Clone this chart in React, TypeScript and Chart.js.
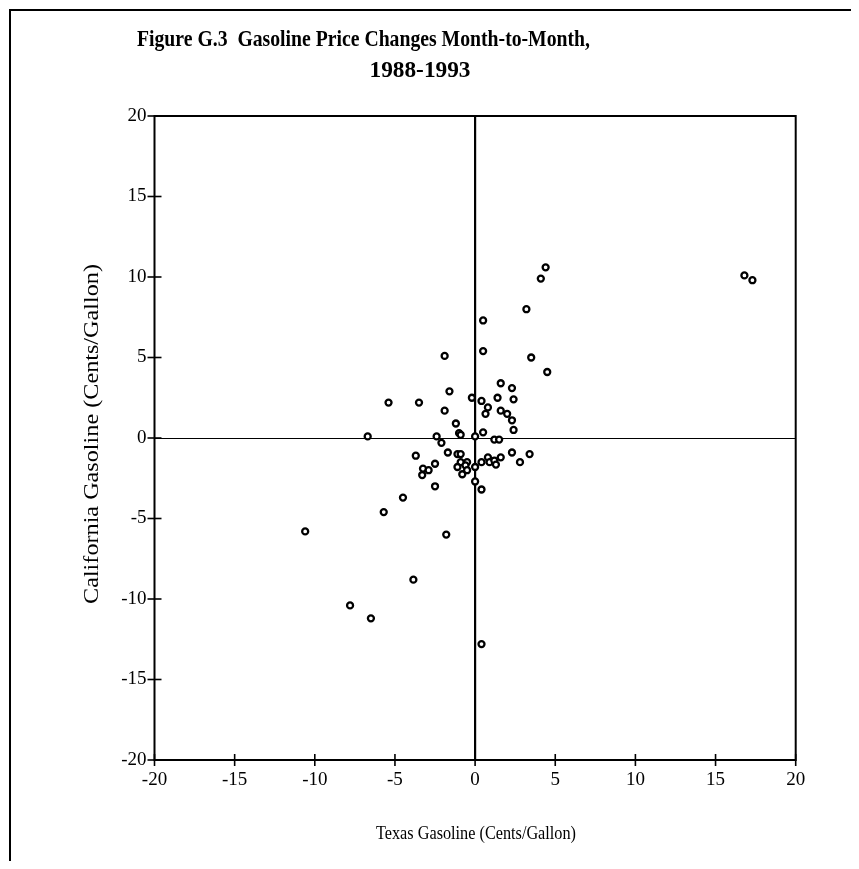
import React, { useEffect, useRef } from "react";
import { Chart, registerables } from "chart.js";

Chart.register(...registerables);

const texasChange = [
  -1.9, -1.6, -5.4, -3.5, -0.2, -1.9, -1.2, -1.0, -0.9, -6.7, -2.4, -2.1, 0.0,
  4.4, 4.1, 3.2, 0.5, 0.5, 3.5, 4.5, 2.3, 1.4, 2.4, 0.4, 0.8, 0.65, 1.6, 2.0,
  2.3, 2.4, 0.5, 1.2, 1.5, -1.7, -1.1, -0.9, -3.7, 2.3, 3.4, 1.6, 0.8, 0.9, 1.2,
  1.3, 0.4, 2.8, -2.5, -0.9, -0.5, -0.6, -1.1, -0.5, -0.8, 0.0, -3.25, -2.9,
  -3.3, 0.0, -2.5, 0.4, -4.5, -5.7, -10.6, -1.8, -3.85, -7.8, -6.5, 0.4, 16.8,
  17.3, 1.6,
];
const californiaChange = [
  5.1, 2.9, 2.2, 2.2, 2.5, 1.7, 0.9, 0.3, 0.2, 0.1, 0.1, -0.3, 0.1, 10.6, 9.9,
  8.0, 7.3, 5.4, 5.0, 4.1, 3.1, 2.5, 2.4, 2.3, 1.9, 1.5, 1.7, 1.5, 1.1, 0.5,
  0.35, -0.1, -0.1, -0.9, -1.0, -1.0, -1.1, -0.9, -1.0, -1.2, -1.2, -1.5, -1.4,
  -1.65, -1.5, -1.5, -1.6, -1.5, -1.5, -1.7, -1.8, -2.0, -2.25, -1.8, -1.9,
  -2.0, -2.3, -2.7, -3.0, -3.2, -3.7, -4.6, -5.8, -6.0, -8.8, -10.4, -11.2,
  -12.8, 10.1, 9.8, 3.4,
];
const axisTicks = [-20, -15, -10, -5, 0, 5, 10, 15, 20];

const titleLine1 = "Figure G.3  Gasoline Price Changes Month-to-Month,";
const titleLine2 = "1988-1993";
const xTitle = "Texas Gasoline (Cents/Gallon)";
const yTitle = "California Gasoline (Cents/Gallon)";

const SERIF = "'Liberation Serif', 'Times New Roman', serif";

function fitText(
  ctx: CanvasRenderingContext2D,
  text: string,
  cx: number,
  cy: number,
  w: number,
  font: string,
  rot = 0
) {
  ctx.save();
  ctx.translate(cx, cy);
  ctx.rotate(rot);
  ctx.font = font;
  const m = ctx.measureText(text).width;
  ctx.scale(w / m, 1);
  ctx.fillStyle = "#000";
  ctx.textAlign = "center";
  ctx.textBaseline = "middle";
  ctx.fillText(text, 0, 0);
  ctx.restore();
}

const decor = {
  id: "decor",
  beforeDatasetsDraw(chart: any) {
    const { ctx, chartArea, scales } = chart;
    const { left, right, top, bottom } = chartArea;
    const x = scales.x;
    const y = scales.y;
    const line = (a: number, b: number, c: number, d: number) => {
      ctx.beginPath();
      ctx.moveTo(a, b);
      ctx.lineTo(c, d);
      ctx.stroke();
    };
    ctx.save();
    ctx.strokeStyle = "#000";
    ctx.lineWidth = 2;
    ctx.strokeRect(left, top, right - left, bottom - top);
    const x0 = x.getPixelForValue(0);
    const y0 = Math.round(y.getPixelForValue(0)) + 0.5;
    ctx.lineWidth = 2.2;
    line(x0, top, x0, bottom);
    ctx.lineWidth = 1;
    line(left, y0, right, y0);
    ctx.lineWidth = 1.6;
    axisTicks.forEach((v) => {
      const px = x.getPixelForValue(v);
      line(px, bottom - 6, px, bottom + 6);
      const py = y.getPixelForValue(v);
      line(left - 7, py, left + 7, py);
    });
    ctx.restore();
  },
  afterDraw(chart: any) {
    const { ctx, width, height } = chart;
    ctx.save();
    ctx.strokeStyle = "#000";
    ctx.lineWidth = 2;
    ctx.beginPath();
    ctx.moveTo(2, height);
    ctx.lineTo(2, 2);
    ctx.lineTo(width, 2);
    ctx.stroke();
    ctx.restore();
    fitText(ctx, titleLine1, 355.5, 32, 453, `bold 24px ${SERIF}`);
    fitText(ctx, titleLine2, 412, 63, 101, `bold 24px ${SERIF}`);
    fitText(ctx, xTitle, 468, 826, 200, `19px ${SERIF}`);
    fitText(ctx, yTitle, 84, 426, 340, `22px ${SERIF}`, -Math.PI / 2);
  },
};

export default function App() {
  const ref = useRef<HTMLCanvasElement | null>(null);
  useEffect(() => {
    if (!ref.current) return;
    const points = texasChange.map((t, i) => ({ x: t, y: californiaChange[i] }));
    const chart = new Chart(ref.current, {
      type: "scatter",
      data: {
        datasets: [
          {
            data: points,
            pointStyle: "circle",
            pointRadius: 3,
            pointBorderWidth: 2.3,
            pointBorderColor: "#000",
            pointBackgroundColor: "#fff",
          },
        ],
      },
      options: {
        animation: false,
        responsive: false,
        events: [],
        layout: { padding: { left: 86.5, right: 55.3, top: 108, bottom: 11 } },
        plugins: {
          legend: { display: false },
          tooltip: { enabled: false },
          title: { display: false },
        },
        scales: {
          x: {
            type: "linear",
            min: -20,
            max: 20,
            afterBuildTicks: (s: any) => {
              s.ticks = axisTicks.map((v) => ({ value: v }));
            },
            afterFit: (s: any) => {
              s.height = 90;
            },
            grid: { display: false, drawTicks: false },
            border: { display: false },
            ticks: {
              padding: 9,
              color: "#000",
              font: { family: SERIF, size: 19 },
              maxRotation: 0,
            },
          },
          y: {
            type: "linear",
            min: -20,
            max: 20,
            afterBuildTicks: (s: any) => {
              s.ticks = axisTicks.map((v) => ({ value: v }));
            },
            afterFit: (s: any) => {
              s.width = 60;
            },
            grid: { display: false, drawTicks: false },
            border: { display: false },
            ticks: {
              padding: 8,
              color: "#000",
              font: { family: SERIF, size: 19 },
            },
          },
        },
      },
      plugins: [decor],
    });
    return () => chart.destroy();
  }, []);
  return (
    <div style={{ width: 843, height: 853 }}>
      <canvas ref={ref} width={843} height={853} style={{ display: "block" }} />
    </div>
  );
}
